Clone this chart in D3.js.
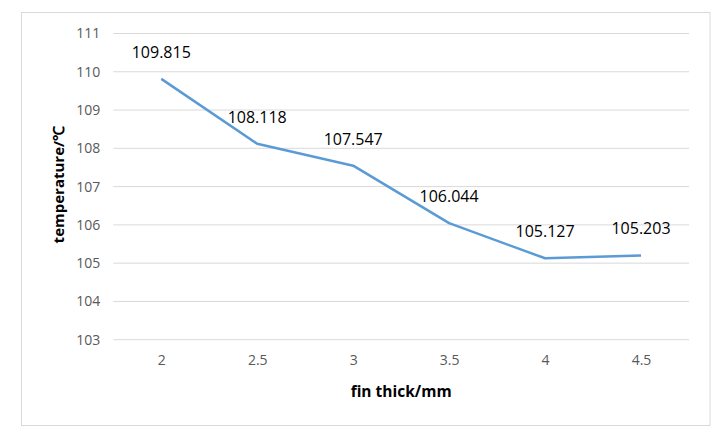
<!DOCTYPE html>
<html>
<head>
<meta charset="utf-8">
<script src="https://cdn.jsdelivr.net/npm/d3@7"></script>
<style>
  body { margin: 0; background: #fff; }
  text { font-family: "Open Sans", sans-serif; }
</style>
</head>
<body>
<div id="chart"></div>
<script>
const categories = ['2', '2.5', '3', '3.5', '4', '4.5'];
const temps = [109.815, 108.118, 107.547, 106.044, 105.127, 105.203];
const yTicks = [103, 104, 105, 106, 107, 108, 109, 110, 111];

const width = 726;
const height = 438;
const margin = { top: 33.5, right: 37, bottom: 98.3, left: 113.3 };

const svg = d3.select('#chart').append('svg')
    .attr('width', width)
    .attr('height', height);

// chart frame
svg.append('rect')
    .attr('x', 21.5).attr('y', 12.5)
    .attr('width', 688.5).attr('height', 413)
    .attr('fill', '#fff')
    .attr('stroke', '#d9d9d9')
    .attr('stroke-width', 1);

const chartWidth = width - margin.left - margin.right;
const chartHeight = height - margin.top - margin.bottom;

const chart = svg.append('g').attr('transform', `translate(${margin.left}, ${margin.top})`);

const xScale = d3.scalePoint().domain(categories).range([0, chartWidth]).padding(0.5);
const yScale = d3.scaleLinear().domain([103, 111]).range([chartHeight, 0]);

// gridlines
chart.append('g')
    .selectAll('line')
    .data(yTicks)
    .enter()
    .append('line')
    .attr('x1', 0).attr('x2', chartWidth)
    .attr('y1', (d) => yScale(d)).attr('y2', (d) => yScale(d))
    .attr('stroke', '#d9d9d9')
    .attr('stroke-width', 1);

// y axis labels
const yAxis = chart.append('g')
    .call(d3.axisLeft(yScale).tickValues(yTicks).tickSize(0).tickPadding(13).tickFormat(d3.format('d')));
yAxis.select('.domain').remove();
yAxis.selectAll('text').attr('fill', '#595959').style('font-size', '14px').style('font-family', '"Open Sans", sans-serif');

// x axis labels
const xAxis = chart.append('g')
    .attr('transform', `translate(0, ${chartHeight})`)
    .call(d3.axisBottom(xScale).tickSize(0).tickPadding(15));
xAxis.select('.domain').remove();
xAxis.selectAll('text').attr('fill', '#595959').style('font-size', '14px').style('font-family', '"Open Sans", sans-serif');

// the line
const line = d3.line()
    .x((d, i) => xScale(categories[i]))
    .y((d) => yScale(d));

chart.append('path')
    .datum(temps)
    .attr('d', line)
    .attr('fill', 'none')
    .attr('stroke', '#5b9bd5')
    .attr('stroke-width', 2.5)
    .attr('stroke-linejoin', 'round');

// data labels above points
chart.selectAll('.lbl')
    .data(temps)
    .enter()
    .append('text')
    .attr('class', 'lbl')
    .attr('x', (d, i) => xScale(categories[i]))
    .attr('y', (d) => yScale(d) - 21)
    .attr('text-anchor', 'middle')
    .attr('fill', '#000')
    .style('font-size', '16px')
    .text((d) => d3.format('.3f')(d));

// axis titles
svg.append('text')
    .attr('x', margin.left + chartWidth / 2)
    .attr('y', 397)
    .attr('text-anchor', 'middle')
    .attr('fill', '#000')
    .style('font-size', '15.5px')
    .style('font-weight', 'bold')
    .text('fin thick/mm');

svg.append('text')
    .attr('transform', `translate(64, ${margin.top + chartHeight / 2 - 2}) rotate(-90)`)
    .attr('text-anchor', 'middle')
    .attr('fill', '#000')
    .style('font-size', '15px')
    .style('font-weight', 'bold')
    .text('temperature/℃');
</script>
</body>
</html>
